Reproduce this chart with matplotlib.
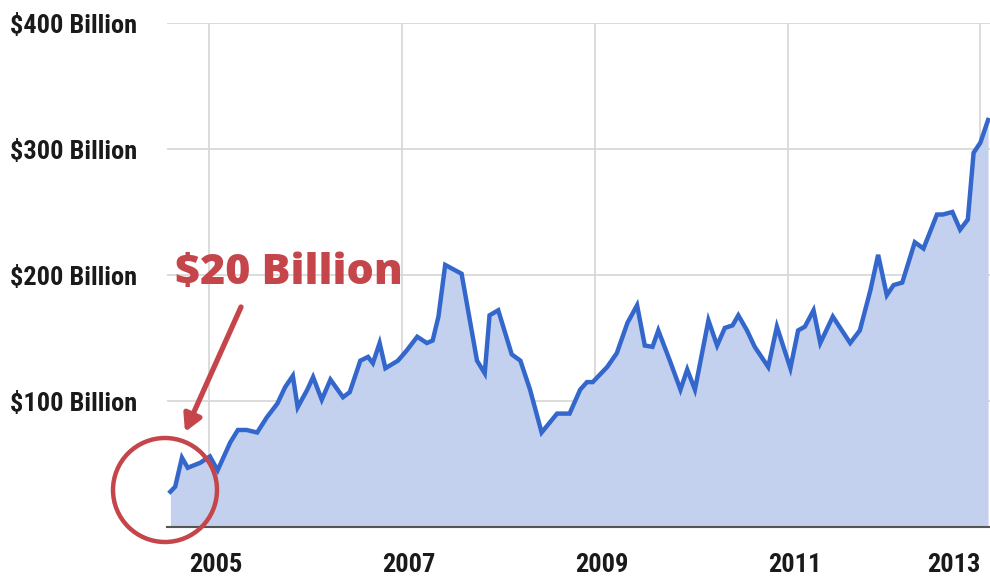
import numpy as np
import matplotlib
matplotlib.use("Agg")
import matplotlib.pyplot as plt
from matplotlib import font_manager
from matplotlib.patches import Ellipse
from matplotlib.transforms import ScaledTranslation

# dados (ano decimal, bilhões de dólares)
years = [2004.60, 2004.65, 2004.72, 2004.78, 2004.91, 2005.01, 2005.09, 2005.22,
         2005.30, 2005.39, 2005.50, 2005.60, 2005.71, 2005.79, 2005.87, 2005.92,
         2006.02, 2006.08, 2006.17, 2006.26, 2006.39, 2006.46, 2006.57, 2006.65,
         2006.70, 2006.77, 2006.83, 2006.96, 2007.05, 2007.16, 2007.26, 2007.32,
         2007.38, 2007.45, 2007.62, 2007.78, 2007.86, 2007.91, 2008.00, 2008.14,
         2008.23, 2008.33, 2008.45, 2008.61, 2008.74, 2008.85, 2008.92, 2008.98,
         2009.13, 2009.23, 2009.34, 2009.44, 2009.52, 2009.60, 2009.66, 2009.78,
         2009.89, 2009.96, 2010.04, 2010.18, 2010.27, 2010.35, 2010.43, 2010.49,
         2010.58, 2010.66, 2010.80, 2010.89, 2011.03, 2011.11, 2011.18, 2011.27,
         2011.34, 2011.47, 2011.65, 2011.75, 2011.86, 2011.94, 2012.03, 2012.10,
         2012.19, 2012.32, 2012.41, 2012.55, 2012.61, 2012.71, 2012.79, 2012.87,
         2012.93, 2013.00, 2013.08]
values = [28, 32, 55, 47, 51, 56, 45, 67,
          77, 77, 75, 87, 98, 111, 120, 95,
          109, 119, 101, 117, 103, 107, 132, 135,
          130, 146, 126, 132, 140, 151, 146, 148,
          167, 208, 201, 132, 122, 168, 172, 137,
          132, 109, 75, 90, 90, 109, 115, 115,
          127, 138, 162, 176, 144, 143, 156, 132,
          109, 125, 109, 164, 144, 158, 160, 168,
          156, 143, 127, 159, 126, 156, 159, 172,
          146, 167, 146, 156, 188, 216, 184, 192,
          194, 226, 221, 248, 248, 250, 236, 244,
          297, 305, 323]

x_ticks = [2005, 2007, 2009, 2011, 2013]
y_ticks = [100, 200, 300, 400]
y_labels = ["\\$100 Billion", "\\$200 Billion", "\\$300 Billion", "\\$400 Billion"]
note = "\\$20 Billion"

# fontes
names = {f.name for f in font_manager.fontManager.ttflist}
cond = "DejaVu Sans"
for nm in ["Roboto Condensed", "Liberation Sans Narrow", "Open Sans Condensed"]:
    if nm in names:
        cond = nm
        break
red = "#c4464b"

fig = plt.figure(figsize=(9.9, 5.82), dpi=100)
ax = fig.add_axes([167 / 990, 1 - 527 / 582, 1 - 167 / 990, (527 - 23) / 582])

ax.fill_between(years, values, 0, color="#c3d1ee", lw=0)
ax.plot(years, values, color="#3467cc", lw=3.2, solid_joinstyle="miter")

ax.set_xlim(2004.565, 2013.10)
ax.set_ylim(0, 400)
ax.set_xticks(x_ticks)
ax.set_xticklabels([str(y) for y in x_ticks])
ax.set_yticks(y_ticks)
ax.set_yticklabels(y_labels)

ax.grid(True, color="#d6d6d6", lw=1.2)
ax.set_axisbelow(True)
for s in ["top", "right", "left"]:
    ax.spines[s].set_visible(False)
ax.spines["bottom"].set_color("#555555")
ax.spines["bottom"].set_linewidth(1.5)
ax.spines["bottom"].set_zorder(3)

ax.tick_params(length=0)
ax.tick_params(axis="x", pad=19)
ax.tick_params(axis="y", pad=113)
for lab in ax.get_yticklabels() + ax.get_xticklabels():
    lab.set_fontfamily(cond)
    lab.set_fontweight("bold")
    lab.set_fontstretch("condensed")
    lab.set_fontsize(19)
    lab.set_color("#1a1a1a")
for lab in ax.get_yticklabels():
    lab.set_horizontalalignment("left")
# rótulos do eixo x um pouco à direita das linhas, como no original
shift = ScaledTranslation(5 / 72, 0, fig.dpi_scale_trans)
for lab in ax.get_xticklabels()[:-1]:
    lab.set_transform(lab.get_transform() + shift)
ax.get_xticklabels()[-1].set_horizontalalignment("right")

# anotação
fig.text(289 / 990, 1 - 273 / 582, note, color=red, fontsize=31, fontweight="heavy",
         family=["Open Sans", "Lato", "DejaVu Sans"], ha="center", va="center")
ax.annotate("", xy=(185 / 990, 1 - 432 / 582), xytext=(241 / 990, 1 - 307 / 582),
            xycoords="figure fraction", textcoords="figure fraction",
            arrowprops=dict(arrowstyle="-|>,head_length=1.0,head_width=0.55",
                            color=red, lw=3.8, shrinkA=0, shrinkB=0),
            annotation_clip=False)
circ = Ellipse((165 / 990, 1 - 490 / 582), 104 / 990, 104 / 582,
               transform=fig.transFigure, fill=False, ec=red, lw=3.2, zorder=10)
fig.add_artist(circ)

fig.savefig("out.png", dpi=100)
